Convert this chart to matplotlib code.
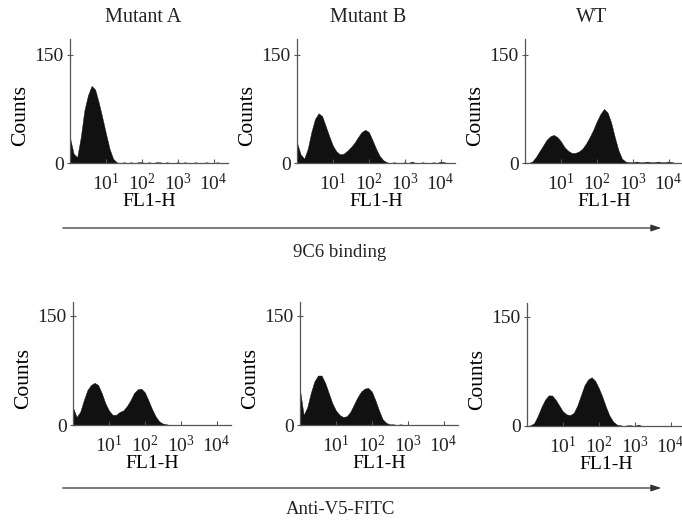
import numpy as np
import matplotlib
matplotlib.use("Agg")
import matplotlib.pyplot as plt

plt.rcParams.update({
    "font.family": ["Liberation Serif", "DejaVu Serif"],
    "mathtext.fontset": "stix",
    "text.color": "#222222",
    "axes.edgecolor": "#555555",
    "xtick.color": "#555555",
    "ytick.color": "#555555",
    "xtick.labelcolor": "#222222",
    "ytick.labelcolor": "#222222",
})

# FL1-H channel positions, in decades (10^x)
decades = [round(0.1 * i, 1) for i in range(44)]

# counts
mutant_a_9c6 = [35, 13, 8, 36, 73, 94, 107, 102, 84, 63, 41, 20, 6, 1, 0, 1, 0, 1, 0, 1, 1, 0,
                1, 0, 1, 1, 0, 1, 0, 0, 1, 0, 1, 0, 0, 1, 0, 0, 1, 0, 0, 1, 0, 0]
mutant_b_9c6 = [28, 12, 6, 20, 43, 61, 69, 65, 51, 37, 24, 16, 12, 13, 17, 22, 28, 36, 43, 46, 43, 32,
                20, 10, 4, 1, 0, 1, 0, 0, 1, 0, 2, 0, 0, 1, 0, 0, 1, 0, 2, 1, 0, 0]
wt_9c6 = [0, 0, 2, 8, 16, 24, 32, 37, 39, 36, 30, 22, 17, 14, 14, 16, 20, 27, 36, 46, 58, 68,
          75, 70, 56, 36, 18, 6, 2, 1, 1, 2, 1, 1, 2, 1, 1, 2, 1, 1, 2, 1, 0, 0]
mutant_a_v5 = [24, 11, 18, 34, 48, 55, 58, 55, 44, 30, 20, 14, 14, 18, 20, 26, 34, 44, 49, 50, 45, 34,
               22, 12, 5, 2, 1, 0, 0, 0, 0, 0, 0, 0, 0, 0, 0, 0, 0, 0, 0, 0, 0, 0]
mutant_b_v5 = [48, 14, 24, 44, 60, 68, 68, 58, 44, 30, 20, 14, 11, 12, 18, 28, 38, 46, 50, 51, 46, 34,
               20, 8, 3, 1, 1, 0, 1, 0, 0, 0, 0, 0, 0, 0, 0, 0, 0, 0, 0, 0, 0, 0]
wt_v5 = [0, 1, 4, 14, 26, 36, 42, 42, 36, 28, 20, 16, 15, 18, 28, 42, 56, 64, 67, 62, 52, 40,
         26, 14, 6, 2, 1, 0, 1, 1, 0, 2, 0, 0, 0, 0, 0, 0, 0, 0, 0, 0, 0, 0]

titles = ["Mutant A", "Mutant B", "WT"]
tick_labels = [r"$\mathregular{10^{1}}$", r"$\mathregular{10^{2}}$",
               r"$\mathregular{10^{3}}$", r"$\mathregular{10^{4}}$"]

W, H = 682, 521
fig = plt.figure(figsize=(W / 100, H / 100), dpi=100)


def px_axes(x0, ytop, x1, ybot):
    return fig.add_axes([x0 / W, 1 - ybot / H, (x1 - x0) / W, (ybot - ytop) / H])


# (x0, ytop, x1, ybottom, ymax) in pixels for each panel
panels = [
    (70, 39, 228, 163, 172, mutant_a_9c6),
    (297, 39, 455, 163, 172, mutant_b_9c6),
    (525, 39, 683, 163, 172, wt_9c6),
    (73, 302, 231, 425, 169, mutant_a_v5),
    (300, 302, 458, 425, 169, mutant_b_v5),
    (527, 303, 685, 426, 169, wt_v5),
]

x = 10 ** np.array(decades)
for x0, yt, x1, yb, ymax, counts in panels:
    ax = px_axes(x0, yt, x1, yb)
    ax.fill_between(x, 0, counts, color="#111111", lw=0.3, edgecolor="#111111")
    ax.set_xscale("log")
    ax.set_xlim(1, 10 ** 4.4)
    ax.set_ylim(0, ymax)
    ax.set_xticks([10, 100, 1000, 10000])
    ax.set_xticklabels(tick_labels)
    ax.minorticks_off()
    ax.set_yticks([0, 150])
    ax.tick_params(axis="x", direction="in", length=3, width=0.8, labelsize=14, pad=7)
    ax.tick_params(axis="y", direction="inout", length=5, width=0.8, labelsize=14, pad=2)
    for s in ["top", "right"]:
        ax.spines[s].set_visible(False)
    for s in ["left", "bottom"]:
        ax.spines[s].set_linewidth(0.9)
    ax.set_xlabel("FL1-H", fontsize=14, labelpad=-1)
    ax.set_ylabel("Counts", fontsize=15.5)
    ax.yaxis.set_label_coords(-0.25, 0.38)

for t, xc in zip(titles, [143, 368, 592]):
    fig.text(xc / W, 1 - 18 / H, t, ha="center", va="center", fontsize=14.5)

# arrows under each row
for y, label, ly in [(228, "9C6 binding", 253), (488, "Anti-V5-FITC", 510)]:
    fig.add_artist(matplotlib.patches.FancyArrowPatch(
        (60 / W, 1 - y / H), (664 / W, 1 - y / H), transform=fig.transFigure,
        arrowstyle="-|>,head_length=6,head_width=2", color="#333333", lw=0.9))
    fig.text(340 / W, 1 - ly / H, label, ha="center", va="center", fontsize=13.5)

fig.savefig("out.png", dpi=100)
